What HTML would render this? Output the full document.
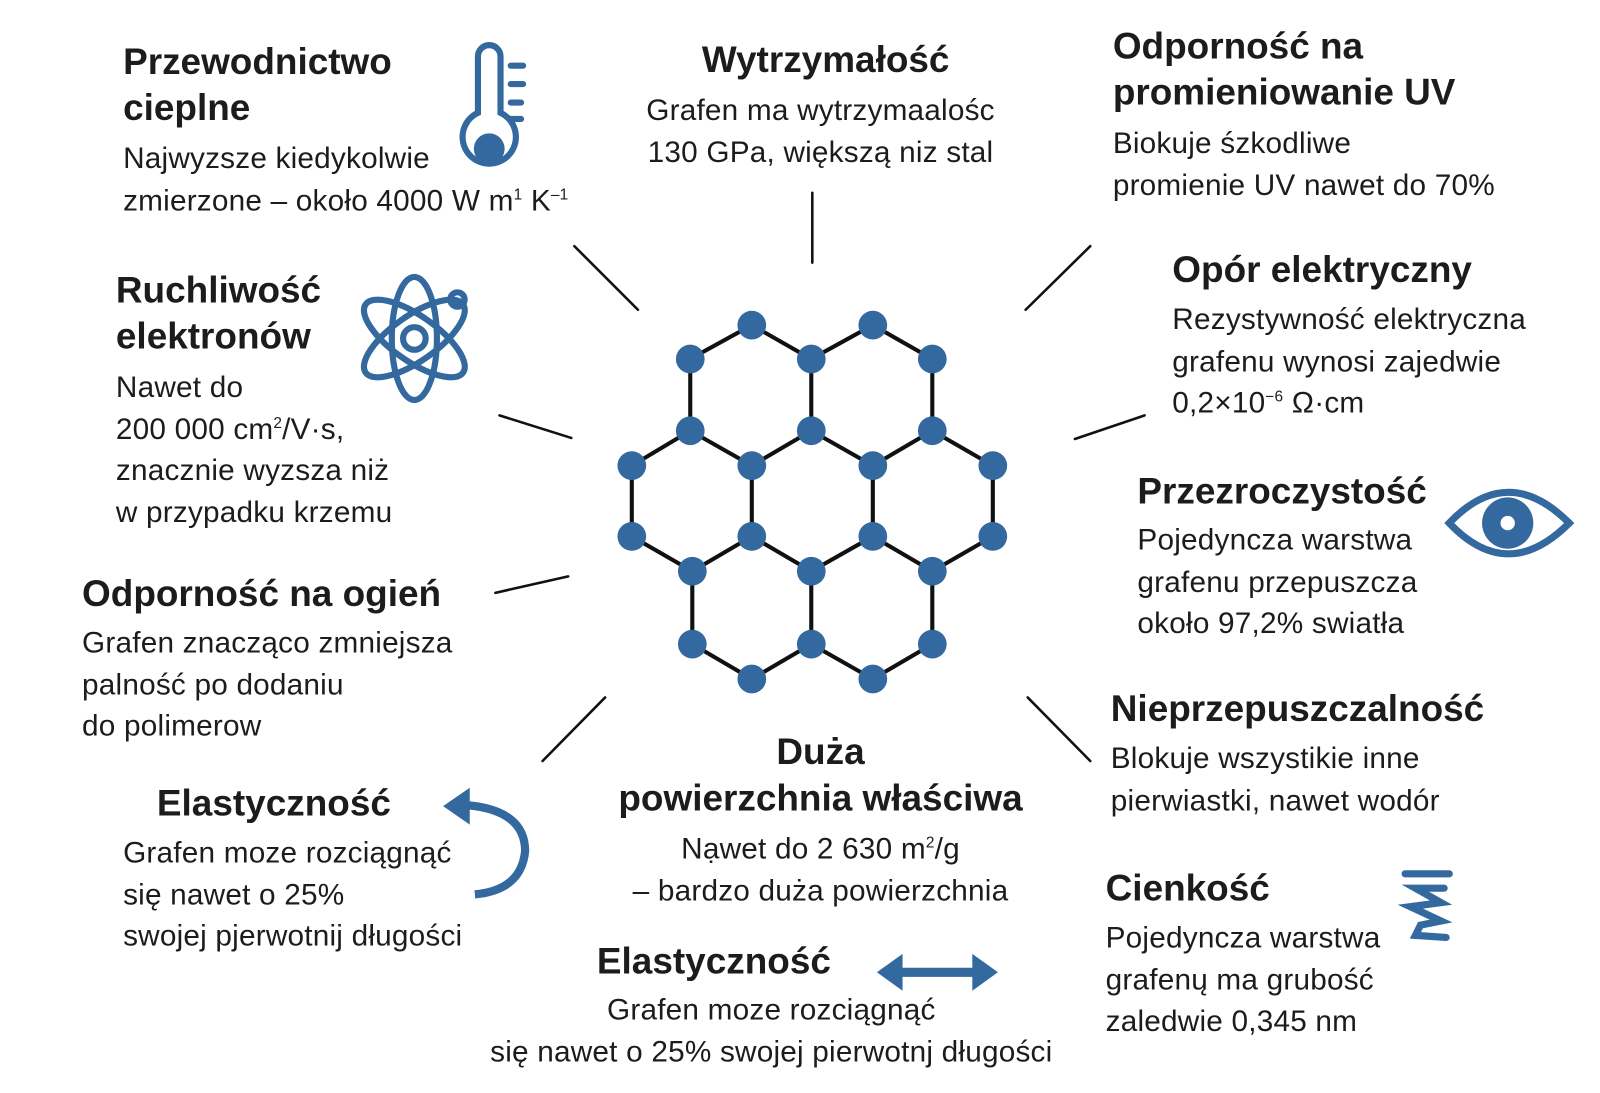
<!DOCTYPE html>
<html><head><meta charset="utf-8"><style>
html,body{margin:0;padding:0;background:#fff;width:1600px;height:1093px;overflow:hidden}
.w{position:absolute;left:0;top:0;width:1560px;height:1066px;transform:scale(1.02564);transform-origin:0 0;font-family:"Liberation Sans",sans-serif;color:#1c1c1c}
.t{position:absolute;white-space:nowrap}
.h{font-weight:bold;font-size:36px;line-height:45px}
.b{font-size:29px;line-height:40.5px;letter-spacing:0.2px}
.c{text-align:center}
sup{font-size:15px;line-height:0;vertical-align:super}
svg{position:absolute;left:0;top:0}
</style></head><body><div class="w">
<svg width="1560" height="1066" viewBox="0 0 1560 1066">
<g stroke="#111" stroke-width="2.5" stroke-linecap="round">
<line x1="560" y1="240" x2="622" y2="302"/><line x1="792" y1="188" x2="792" y2="256"/>
<line x1="1063" y1="240" x2="1000" y2="302"/><line x1="487" y1="405" x2="557" y2="427"/>
<line x1="1116" y1="405" x2="1048" y2="428"/><line x1="483" y1="578" x2="554" y2="562"/>
<line x1="590" y1="680" x2="529" y2="742"/><line x1="1002" y1="680" x2="1063" y2="742"/>
</g>
<g stroke="#111" stroke-width="4">
<path d="M673 350L733 317L791 350L851 317L909 350M673 350V420M791 350V420M909 350V420M673 420L616 454M673 420L733 454L791 420L851 454L909 420L968 454M616 454V523M733 454V523M851 454V523M968 454V523M616 523L675 557L733 523L791 557L851 523L909 557L968 523M675 557V628M791 557V628M909 557V628M675 628L733 662L791 628L851 662L909 628" fill="none"/>
</g>
<g fill="#33699f">
<circle cx="733" cy="317" r="14"/><circle cx="851" cy="317" r="14"/>
<circle cx="673" cy="350" r="14"/><circle cx="791" cy="350" r="14"/><circle cx="909" cy="350" r="14"/>
<circle cx="673" cy="420" r="14"/><circle cx="791" cy="420" r="14"/><circle cx="909" cy="420" r="14"/>
<circle cx="616" cy="454" r="14"/><circle cx="733" cy="454" r="14"/><circle cx="851" cy="454" r="14"/><circle cx="968" cy="454" r="14"/>
<circle cx="616" cy="523" r="14"/><circle cx="733" cy="523" r="14"/><circle cx="851" cy="523" r="14"/><circle cx="968" cy="523" r="14"/>
<circle cx="675" cy="557" r="14"/><circle cx="791" cy="557" r="14"/><circle cx="909" cy="557" r="14"/>
<circle cx="675" cy="628" r="14"/><circle cx="791" cy="628" r="14"/><circle cx="909" cy="628" r="14"/>
<circle cx="733" cy="662" r="14"/><circle cx="851" cy="662" r="14"/>
</g>
<g stroke="#33699f" fill="none" stroke-width="6" stroke-linecap="round">
<path d="M466 110V55a11 11 0 0 1 22 0V110a26 26 0 1 1 -22 0z"/>
<line x1="498" y1="64" x2="510" y2="64"/><line x1="498" y1="82" x2="510" y2="82"/><line x1="498" y1="100" x2="508" y2="100"/><line x1="498" y1="116" x2="508" y2="116"/>
</g>
<circle cx="477" cy="145" r="15" fill="#33699f"/>
<g stroke="#33699f" fill="none" stroke-width="6">
<ellipse cx="404" cy="330" rx="58" ry="22" transform="rotate(35 404 330)"/>
<ellipse cx="404" cy="330" rx="58" ry="22" transform="rotate(-35 404 330)"/>
<ellipse cx="404" cy="330" rx="22" ry="60"/>
<circle cx="404" cy="330" r="11"/>
<circle cx="446" cy="292" r="7"/>
</g>
<path d="M1413 510Q1470 450 1530 510Q1470 570 1413 510z" fill="none" stroke="#33699f" stroke-width="7"/>
<circle cx="1470" cy="510" r="25" fill="#33699f"/><circle cx="1470" cy="510" r="7" fill="#fff"/>
<path d="M455 785Q512 790 512 830Q508 868 463 872" fill="none" stroke="#33699f" stroke-width="8"/>
<path d="M432 786L458 768L458 804z" fill="#33699f"/>
<line x1="878" y1="948" x2="950" y2="948" stroke="#33699f" stroke-width="9"/>
<path d="M855 948L880 930V966z M973 948L948 930V966z" fill="#33699f"/>
<g stroke="#33699f" fill="none" stroke-width="7" stroke-linecap="round">
<line x1="1370" y1="852" x2="1413" y2="852"/>
<path d="M1408 866L1380 866L1405 880L1375 884L1405 898L1385 902L1380 912L1410 914"/>
</g>
</svg>
<div class="t h" style="left:120px;top:37px">Przewodnictwo<br>cieplne</div>
<div class="t b" style="left:120px;top:135px">Najwyzsze kiedykolwie<br>zmierzone – około 4000 W m<sup>1</sup> K<sup>–1</sup></div>
<div class="t h c" style="left:605px;width:400px;top:35px">Wytrzymałość</div>
<div class="t b c" style="left:550px;width:500px;top:88px">Grafen ma wytrzymaalośc<br>130 GPa, większą niz stal</div>
<div class="t h" style="left:1085px;top:22px">Odporność na<br>promieniowanie UV</div>
<div class="t b" style="left:1085px;top:120px">Biokuje śzkodliwe<br>promienie UV nawet do 70%</div>
<div class="t h" style="left:113px;top:260px">Ruchliwość<br>elektronów</div>
<div class="t b" style="left:113px;top:358px">Nawet do<br>200 000 cm<sup>2</sup>/V·s,<br>znacznie wyzsza niż<br>w przypadku krzemu</div>
<div class="t h" style="left:1143px;top:240px">Opór elektryczny</div>
<div class="t b" style="left:1143px;top:292px">Rezystywność elektryczna<br>grafenu wynosi zajedwie<br>0,2×10<sup>−6</sup> Ω·cm</div>
<div class="t h" style="left:1109px;top:456px">Przezroczystość</div>
<div class="t b" style="left:1109px;top:507px">Pojedyncza warstwa<br>grafenu przepuszcza<br>około 97,2% swiatła</div>
<div class="t h" style="left:80px;top:556px">Odporność na ogień</div>
<div class="t b" style="left:80px;top:607px">Grafen znacząco zmniejsza<br>palność po dodaniu<br>do polimerow</div>
<div class="t h" style="left:1083px;top:668px">Nieprzepuszczalność</div>
<div class="t b" style="left:1083px;top:720px">Blokuje wszystikie inne<br>pierwiastki, nawet wodór</div>
<div class="t h c" style="left:550px;width:500px;top:710px">Duża<br>powierzchnia właściwa</div>
<div class="t b c" style="left:550px;width:500px;top:808px">Nạwet do 2 630 m<sup>2</sup>/g<br>– bardzo duża powierzchnia</div>
<div class="t h" style="left:153px;top:760px">Elastyczność</div>
<div class="t b" style="left:120px;top:812px">Grafen moze rozciągnąć<br>się nawet o 25%<br>swojej pjerwotnij długości</div>
<div class="t h" style="left:1078px;top:843px">Cienkość</div>
<div class="t b" style="left:1078px;top:895px">Pojedyncza warstwa<br>grafenų ma grubość<br>zaledwie 0,345 nm</div>
<div class="t h" style="left:582px;top:914px">Elastyczność</div>
<div class="t b c" style="left:452px;width:600px;top:965px">Grafen moze rozciągnąć<br>się nawet o 25% swojej pierwotnj długości</div>
</div></body></html>
